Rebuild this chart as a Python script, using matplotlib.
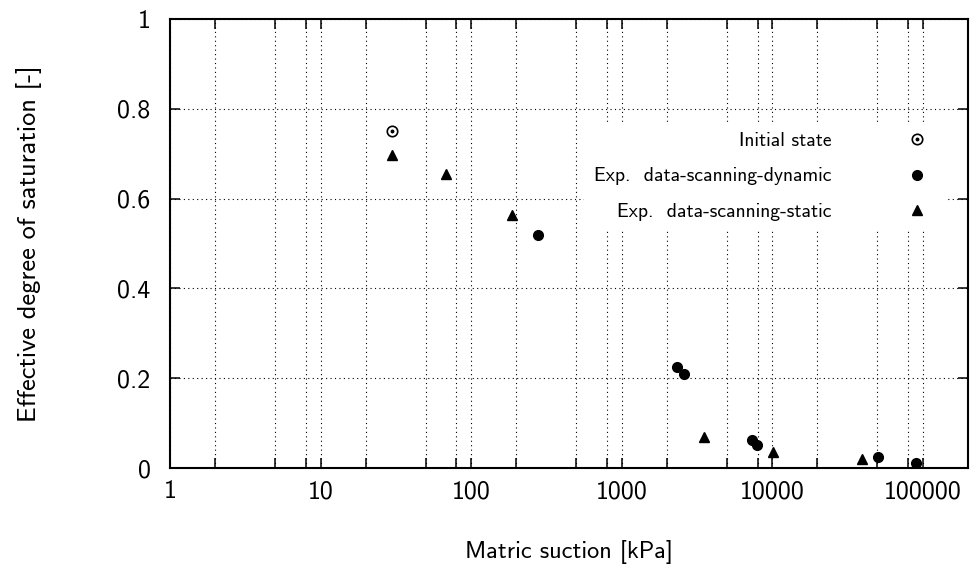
import numpy as np
import matplotlib
matplotlib.use("Agg")
import matplotlib.pyplot as plt
from matplotlib.ticker import FixedLocator, NullFormatter
from matplotlib.legend_handler import HandlerTuple

plt.rcParams['font.family'] = ['cmss10', 'DejaVu Sans']
plt.rcParams['axes.unicode_minus'] = False

# data
initial_x = [30.0]
initial_y = [0.751]

dynamic_x = [279, 2340, 2610, 7370, 7880, 50300, 90300]
dynamic_y = [0.519, 0.224, 0.209, 0.062, 0.051, 0.025, 0.012]

static_x = [30.0, 68.6, 186, 3530, 10200, 39600]
static_y = [0.697, 0.655, 0.563, 0.070, 0.036, 0.020]

xticks = [1, 10, 100, 1000, 10000, 100000]
xticklabels = ['1', '10', '100', '1000', '10000', '100000']
yticks = [0, 0.2, 0.4, 0.6, 0.8, 1]
yticklabels = ['0', '0.2', '0.4', '0.6', '0.8', '1']

fig = plt.figure(figsize=(9.75, 5.72), dpi=100)
ax = fig.add_axes([170 / 975, 1 - 468 / 572, 798 / 975, 449 / 572])

ax.set_xscale('log')
ax.set_xlim(1, 2e5)
ax.set_ylim(0, 1)

minor = [m * 10 ** k for k in range(6) for m in (2, 5, 8) if m * 10 ** k < 2e5]
ax.xaxis.set_minor_locator(FixedLocator(minor))
ax.xaxis.set_minor_formatter(NullFormatter())
ax.set_xticks(xticks, xticklabels)
ax.set_yticks(yticks, yticklabels)

ax.grid(True, which='both', axis='x', color='black', linestyle=(0, (1, 3)), linewidth=0.8)
ax.grid(True, which='major', axis='y', color='black', linestyle=(0, (1, 3)), linewidth=0.8)

ax.tick_params(which='both', direction='in', top=True, right=True,
               length=7, width=1.1, labelsize=18.7)
ax.tick_params(axis='x', pad=9)
ax.tick_params(axis='y', pad=14)
for s in ax.spines.values():
    s.set_linewidth(1.5)

h_open, = ax.plot(initial_x, initial_y, 'o', mfc='none', mec='black', mew=1.2, ms=7.5, ls='none', zorder=4)
h_dot, = ax.plot(initial_x, initial_y, 'o', color='black', ms=1.8, ls='none', zorder=4)
h_dyn, = ax.plot(dynamic_x, dynamic_y, 'o', color='black', ms=7, ls='none', zorder=4)
h_sta, = ax.plot(static_x, static_y, '^', color='black', ms=6.5, ls='none', zorder=4)

leg = ax.legend([(h_open, h_dot), h_dyn, h_sta],
                ['Initial state', 'Exp.  data-scanning-dynamic', 'Exp.  data-scanning-static'],
                handler_map={tuple: HandlerTuple(ndivide=1)},
                loc='upper right', bbox_to_anchor=(0.9737, 0.770), borderaxespad=0,
                markerfirst=False, fontsize=14.2, handlelength=2, handletextpad=3.35,
                labelspacing=0.88, borderpad=0.5, frameon=True, fancybox=False,
                framealpha=1, edgecolor='none', facecolor='white')

ax.set_xlabel('Matric suction [kPa]', fontsize=17.5, labelpad=26)
ax.set_ylabel('Effective degree of saturation [-]', fontsize=19, labelpad=54)

fig.savefig('out.png', dpi=100)
